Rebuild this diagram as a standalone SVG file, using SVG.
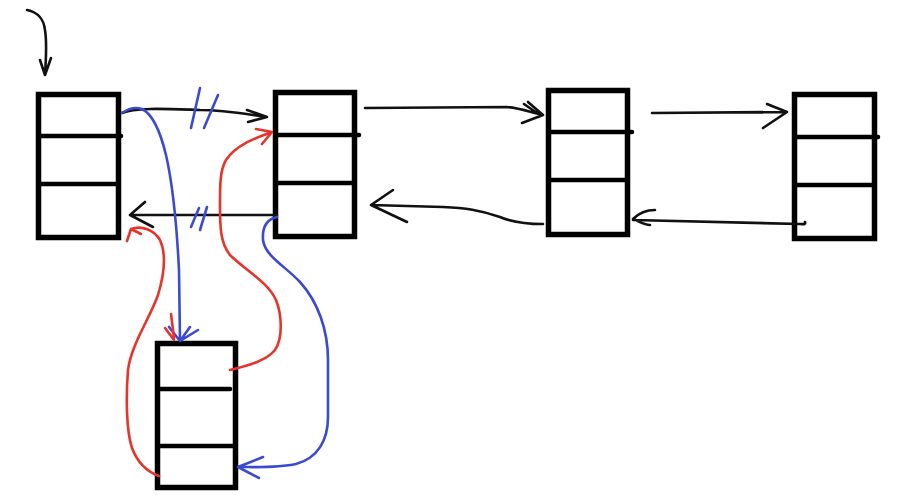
<svg xmlns="http://www.w3.org/2000/svg" width="908" height="495" viewBox="0 0 908 495">
<style>
.box{fill:#fff;stroke:#000;stroke-width:5.5;stroke-linejoin:miter}
.div{stroke:#000;stroke-width:4.5;stroke-linecap:round}
.k{fill:none;stroke:#111;stroke-width:2.6;stroke-linecap:round;stroke-linejoin:round}
.b{fill:none;stroke:#3a4bd2;stroke-width:2.6;stroke-linecap:round;stroke-linejoin:round}
.r{fill:none;stroke:#e8332a;stroke-width:2.6;stroke-linecap:round;stroke-linejoin:round}
</style>
<rect width="908" height="495" fill="#fff"/>
<g id="node1">
<rect class="box" x="38.5" y="94.5" width="80" height="143"/>
<line class="div" x1="38.5" y1="136" x2="121" y2="136"/>
<line class="div" x1="38.5" y1="184" x2="118.5" y2="184"/>
</g>
<g id="node2">
<rect class="box" x="275.5" y="92.5" width="79" height="144"/>
<line class="div" x1="275.5" y1="135" x2="359" y2="135"/>
<line class="div" x1="275.5" y1="183" x2="354.5" y2="183"/>
</g>
<g id="node3">
<rect class="box" x="548.5" y="90.5" width="79" height="144"/>
<line class="div" x1="548.5" y1="132" x2="632" y2="132"/>
<line class="div" x1="548.5" y1="180" x2="627.5" y2="180"/>
</g>
<g id="node4">
<rect class="box" x="794.5" y="94.5" width="80" height="144"/>
<line class="div" x1="794.5" y1="137" x2="878" y2="137"/>
<line class="div" x1="794.5" y1="185" x2="874.5" y2="185"/>
</g>
<g id="node5">
<rect class="box" x="157.5" y="343.5" width="78" height="144"/>
<line class="div" x1="157.5" y1="389" x2="230" y2="389"/>
<line class="div" x1="157.5" y1="446" x2="235.5" y2="446"/>
</g>
<g id="connectors">
<path class="k" d="M27,10 C38,12 44,20 45,30 C47,42 46,60 45,75 M40,60 L45,75 L51,58"/>
<path class="k" d="M122,113 C135,107 170,109 200,110 C225,110 245,114 267,117 M247,110 L267,117 L248,122"/>
<path class="b" d="M200,88 L191,128 M218,95 L204,128"/>
<path class="k" d="M277,215 L130,215 M145,202 L130,215 L153,227"/>
<path class="b" d="M199,208 L191,227 M207,207 L200,230"/>
<path class="k" d="M365,108 L507,107 C520,108 530,112 543,115 M528,102 L543,115 L522,123 M524,104 L537,113"/>
<path class="k" d="M543,224 C530,224 512,222 500,217 C480,210 465,208 443,207 L371,205 M393,190 L371,205 L407,222"/>
<path class="k" d="M652,113 L787,112 M767,104 L787,112 L763,128"/>
<path class="k" d="M805,222 C806,225 803,224 800,224 L633,220 M655,210 C645,210 638,214 633,219 C640,222 645,225 650,225"/>
<path class="b" d="M122,113 C128,109 136,107 142,109 C152,114 160,130 166,155 C174,190 177,230 179,270 L180,341 M169,327 L180,341 L198,330 M180,341 L190,327"/>
<path class="b" d="M277,217 C268,219 262,226 263,240 C265,256 285,266 300,282 C318,302 328,330 328,360 L328,417 C328,440 318,458 296,464 C278,468 258,467 238,467 M263,457 L238,467 L259,478"/>
<path class="r" d="M230,370 C245,366 265,362 275,350 C283,338 282,315 276,300 C268,282 245,270 230,255 C220,243 220,225 220,205 C220,185 220,170 226,160 C236,145 255,138 272,132 M256,129 L272,132 L262,144"/>
<path class="r" d="M159,476 C148,472 138,464 132,448 C126,430 126,395 128,370 C131,345 150,318 158,295 C164,275 167,255 160,240 C154,230 142,225 131,229 M127,241 L131,229 L141,234"/>
<path class="r" d="M171,314 L174,338 M165,328 L174,340"/>
</g>
</svg>
